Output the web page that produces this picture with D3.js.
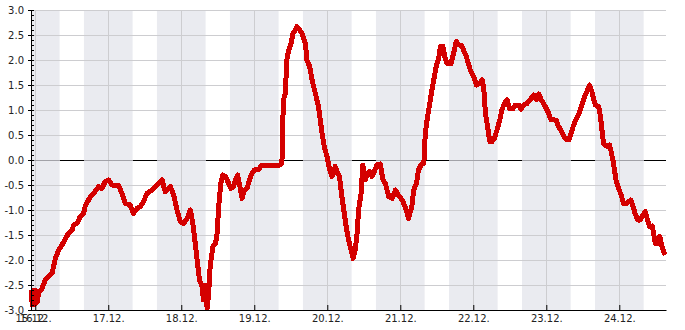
<!DOCTYPE html>
<html lang="en">
<head>
<meta charset="utf-8">
<title>chart</title>
<script src="https://d3js.org/d3.v7.min.js"></script>
<style type="text/css">
  body { margin:0; background:#fff; }
  svg { display:block; }
  text { font-family: "DejaVu Sans", sans-serif; font-size: 10px; fill: #222; }
</style>
</head>
<body>
<div id="chart"></div>
<script type="text/javascript">

// hours after 16.12. 00:00 and the reading at that time
var hours = [-1.3, -1.0, -0.7, -0.3, 0.0, 0.6, 1.1, 2.2, 3.3, 4.4, 5.5, 6.0, 6.6, 7.7, 8.8, 9.9, 10.9, 12.1, 12.6, 13.7,
  14.8, 15.9, 16.4, 17.5, 18.6, 19.7, 20.8, 21.9, 23.0, 24.1, 25.2, 27.4, 28.5, 29.6, 31.2, 32.3, 33.4, 34.5, 35.6, 36.7,
  38.4, 40.0, 41.7, 42.7, 44.4, 45.5, 46.6, 47.7, 48.8, 49.9, 51.0, 51.8, 52.6, 53.2, 54.0, 54.8, 55.3, 55.9, 56.5, 57.0,
  57.5, 58.4, 59.2, 59.7, 60.3, 61.0, 61.6, 62.5, 63.6, 64.3, 65.2, 65.8, 66.5, 67.2, 68.0, 68.7, 69.6, 70.1, 71.0, 72.0,
  73.4, 74.5, 80.5, 81.1, 81.2, 81.6, 82.2, 82.7, 83.3, 84.1, 84.7, 85.5, 86.0, 86.9, 87.7, 88.2, 88.8, 89.3, 90.2, 91.0,
  92.1, 93.1, 93.7, 94.3, 95.0, 95.9, 96.8, 97.5, 98.1, 98.6, 99.2, 100.0, 100.8, 101.6, 102.2, 103.0, 103.8, 104.5, 105.2, 105.8,
  106.3, 107.1, 107.7, 108.5, 109.1, 109.9, 110.7, 111.5, 112.3, 113.4, 114.3, 115.1, 116.2, 117.3, 118.4, 119.4, 120.6, 121.6, 122.7, 123.8,
  124.4, 125.3, 126.0, 126.8, 127.7, 127.9, 128.2, 128.8, 129.6, 130.4, 131.0, 131.8, 132.6, 133.2, 134.0, 134.6, 135.4, 136.7, 137.5, 138.4,
  139.2, 140.0, 140.8, 141.7, 142.5, 143.2, 144.1, 145.0, 146.1, 146.9, 147.4, 148.0, 148.7, 149.4, 150.2, 150.9, 151.8, 152.7, 153.4, 154.2,
  155.1, 155.9, 157.1, 157.8, 158.9, 159.7, 160.5, 161.7, 162.7, 163.8, 164.7, 165.5, 166.3, 167.1, 168.0, 168.8, 169.5, 170.4, 171.3, 172.0,
  172.8, 173.7, 174.6, 175.5, 176.1, 177.0, 177.9, 178.8, 179.7, 180.6, 181.4, 182.2, 183.0, 183.6, 184.1, 185.2, 185.8, 186.3, 186.8, 188.0,
  188.8, 189.3, 189.9, 190.4, 191.0, 191.8, 192.6, 193.4, 194.3, 195.1, 195.8, 196.5, 197.2, 198.0, 198.9, 199.8, 200.5, 201.3, 202.0, 202.8,
  203.3, 203.8, 204.6, 205.3, 206.0, 206.8, 207.1];

var values = [-2.6, -2.9, -2.6, -2.9, -2.6, -2.85, -2.66, -2.57, -2.4, -2.33, -2.27, -2.13, -1.97, -1.8, -1.7, -1.57, -1.47, -1.4, -1.3, -1.27,
  -1.13, -1.07, -0.93, -0.8, -0.7, -0.63, -0.53, -0.57, -0.43, -0.4, -0.5, -0.5, -0.67, -0.87, -0.9, -1.07, -0.97, -0.93, -0.83, -0.67,
  -0.6, -0.5, -0.4, -0.63, -0.53, -0.7, -1.0, -1.23, -1.27, -1.17, -1.0, -1.27, -1.67, -2.0, -2.4, -2.53, -2.8, -2.5, -2.97, -2.67,
  -2.13, -1.73, -1.67, -1.53, -0.93, -0.47, -0.3, -0.33, -0.47, -0.57, -0.53, -0.4, -0.3, -0.5, -0.77, -0.6, -0.57, -0.47, -0.3, -0.2,
  -0.19, -0.1, -0.1, -0.07, 0.4, 1.2, 1.33, 2.0, 2.2, 2.33, 2.53, 2.6, 2.67, 2.6, 2.53, 2.43, 2.33, 2.0, 1.87, 1.6,
  1.33, 1.07, 0.8, 0.53, 0.27, 0.07, -0.2, -0.33, -0.27, -0.13, -0.23, -0.33, -0.73, -1.07, -1.33, -1.6, -1.8, -1.97, -1.8, -1.47,
  -1.0, -0.67, -0.1, -0.4, -0.27, -0.23, -0.33, -0.23, -0.1, -0.08, -0.4, -0.47, -0.73, -0.77, -0.6, -0.7, -0.8, -0.93, -1.17, -0.93,
  -0.6, -0.47, -0.2, -0.1, -0.07, 0.07, 0.53, 0.8, 1.1, 1.4, 1.6, 1.87, 2.03, 2.27, 2.27, 2.07, 1.93, 1.93, 2.13, 2.37,
  2.3, 2.3, 2.2, 2.07, 1.9, 1.77, 1.67, 1.5, 1.53, 1.6, 1.47, 0.93, 0.67, 0.37, 0.37, 0.43, 0.6, 0.8, 1.0, 1.13,
  1.2, 1.03, 1.03, 1.1, 1.1, 1.01, 1.1, 1.13, 1.21, 1.3, 1.21, 1.32, 1.21, 1.13, 1.03, 0.93, 0.81, 0.81, 0.79, 0.67,
  0.6, 0.48, 0.41, 0.41, 0.53, 0.7, 0.83, 0.93, 1.1, 1.27, 1.37, 1.5, 1.37, 1.2, 1.1, 1.07, 0.87, 0.6, 0.33, 0.27,
  0.3, 0.17, 0.0, -0.2, -0.43, -0.57, -0.7, -0.87, -0.87, -0.83, -0.8, -0.93, -1.07, -1.2, -1.2, -1.1, -1.03, -1.2, -1.33, -1.32,
  -1.47, -1.67, -1.67, -1.53, -1.73, -1.87, -1.9];

var days = [16, 17, 18, 19, 20, 21, 22, 23, 24];
var yTicks = [-3, -2.5, -2, -1.5, -1, -0.5, 0, 0.5, 1, 1.5, 2, 2.5, 3];
var dayStartHour = 8, dayEndHour = 16;   // white (light) part of each day

var w = 685, h = 330;
var margin = {top: 10, right: 19, bottom: 20, left: 31};

var base = new Date(2023, 11, 16, 0, 0);
var atHour = function(hh) { return new Date(base.getTime() + hh * 3600000); };

var data = hours.map(function(hh, i) { return {t: atHour(hh), v: values[i]}; });
var tStart = atHour(-1.4), tEnd = atHour(207.35);

var x = d3.scaleTime().domain([tStart, tEnd]).range([margin.left, w - margin.right]);
var y = d3.scaleLinear().domain([-3, 3]).range([h - margin.bottom, margin.top]);

var svg = d3.select("#chart").append("svg").attr("width", w).attr("height", h);

// night bands (16:00 -> 08:00)
var bands = [];
for (var d = 15; d <= 24; d++) {
  var a = new Date(2023, 11, d, dayEndHour), b = new Date(2023, 11, d + 1, dayStartHour);
  if (b < tStart || a > tEnd) continue;
  bands.push([a < tStart ? tStart : a, b > tEnd ? tEnd : b]);
}
svg.append("g").selectAll("rect").data(bands).enter().append("rect")
  .attr("x", function(d) { return x(d[0]); })
  .attr("width", function(d) { return x(d[1]) - x(d[0]); })
  .attr("y", margin.top).attr("height", h - margin.bottom - margin.top)
  .attr("fill", "#eaebf0");

// grid
var grid = svg.append("g").attr("stroke", "#cdcdd0").attr("stroke-width", 1).attr("shape-rendering", "crispEdges");
grid.selectAll(".hg").data(yTicks.filter(function(v) { return v !== 0 && v !== -3; })).enter().append("line")
  .attr("x1", margin.left).attr("x2", w - margin.right)
  .attr("y1", function(d) { return Math.round(y(d)) + 0.5; })
  .attr("y2", function(d) { return Math.round(y(d)) + 0.5; });
grid.selectAll(".vg").data(days).enter().append("line")
  .attr("x1", function(d) { return Math.round(x(new Date(2023, 11, d))) + 0.5; })
  .attr("x2", function(d) { return Math.round(x(new Date(2023, 11, d))) + 0.5; })
  .attr("y1", margin.top).attr("y2", h - margin.bottom);

// zero line: grey over the night bands, black in the daytime gaps
svg.append("line")
  .attr("x1", margin.left).attr("x2", w - margin.right)
  .attr("y1", y(0) + 0.5).attr("y2", y(0) + 0.5)
  .attr("stroke", "#a2a2a8").attr("shape-rendering", "crispEdges");
var gaps = [];
for (var k = 0; k < bands.length - 1; k++) gaps.push([bands[k][1], bands[k + 1][0]]);
if (bands[bands.length - 1][1] < tEnd) gaps.push([bands[bands.length - 1][1], tEnd]);
svg.append("g").selectAll("line").data(gaps).enter().append("line")
  .attr("x1", function(d) { return x(d[0]); })
  .attr("x2", function(d) { return x(d[1]); })
  .attr("y1", y(0) + 0.5).attr("y2", y(0) + 0.5)
  .attr("stroke", "#000").attr("shape-rendering", "crispEdges");

// the series
var line = d3.line().x(function(d) { return x(d.t); }).y(function(d) { return y(d.v); });
svg.append("path").datum(data)
  .attr("d", line)
  .attr("fill", "none")
  .attr("stroke", "#d40000")
  .attr("stroke-width", 5)
  .attr("stroke-linejoin", "round")
  .attr("shape-rendering", "crispEdges");

// y axis with minor ticks every 0.1
var yAxis = d3.axisLeft(y).tickValues(yTicks).tickSize(0).tickPadding(7)
  .tickFormat(function(d) { return d.toFixed(1); });
var gy = svg.append("g").attr("transform", "translate(" + margin.left + ",0)").call(yAxis);
gy.select(".domain").remove();
gy.selectAll("text").style("font-family", "DejaVu Sans").style("font-size", "10px").attr("fill", "#222");
var minor = d3.range(-30, 31).map(function(i) { return i / 10; });
svg.append("g").attr("stroke", "#000").attr("shape-rendering", "crispEdges")
  .selectAll("line").data(minor).enter().append("line")
  .attr("x1", function(d) { return Math.round(d * 10) % 5 === 0 ? margin.left - 3 : margin.left; })
  .attr("x2", margin.left + 3)
  .attr("y1", function(d) { return Math.round(y(d)) + 0.5; })
  .attr("y2", function(d) { return Math.round(y(d)) + 0.5; });
svg.append("line").attr("x1", margin.left + 0.5).attr("x2", margin.left + 0.5)
  .attr("y1", margin.top).attr("y2", h - margin.bottom)
  .attr("stroke", "#000").attr("shape-rendering", "crispEdges");

// x axis
var xTicks = [tStart].concat(days.map(function(d) { return new Date(2023, 11, d); }));
var xAxis = d3.axisBottom(x).tickValues(xTicks).tickSizeInner(-5).tickSizeOuter(0).tickPadding(5)
  .tickFormat(d3.timeFormat("%d.%m."));
var gx = svg.append("g").attr("transform", "translate(0," + (h - margin.bottom) + ")").call(xAxis);
gx.select(".domain").attr("stroke", "#000");
gx.selectAll("text").style("font-family", "DejaVu Sans").style("font-size", "10px").attr("fill", "#222");

</script>
</body>
</html>
